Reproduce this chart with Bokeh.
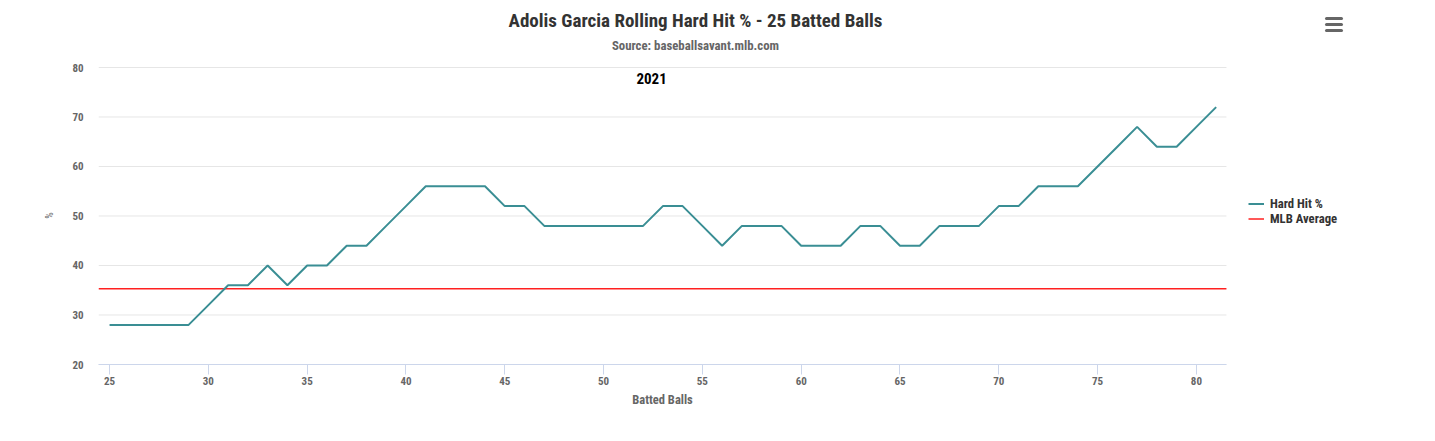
from bokeh.plotting import figure
from bokeh.layouts import column
from bokeh.models import Range1d, FixedTicker, Label, Legend, LegendItem
from bokeh.embed import file_html
from bokeh.resources import INLINE

# ---- data ----
batted_balls = list(range(25, 82))
hard_hit_pct = [28, 28, 28, 28, 28, 32, 36, 36, 40, 36,
                40, 40, 44, 44, 48, 52, 56, 56, 56, 56,
                52, 52, 48, 48, 48, 48, 48, 48, 52, 52,
                48, 44, 48, 48, 48, 44, 44, 44, 48, 48,
                44, 44, 48, 48, 48, 52, 52, 56, 56, 56,
                60, 64, 68, 64, 64, 68, 72]
mlb_average = 35.3
x_ticks = [25, 30, 35, 40, 45, 50, 55, 60, 65, 70, 75, 80]
y_ticks = [20, 30, 40, 50, 60, 70, 80]
title_text = "Adolis Garcia Rolling Hard Hit % - 25 Batted Balls"
subtitle_text = "Source: baseballsavant.mlb.com"
season_text = "2021"
x_axis_title = "Batted Balls"
y_axis_title = "%"

FONT = "Roboto Condensed, Liberation Sans Narrow, Roboto"
W = 1419
HEAD_H = 61
MAIN_H = 331
FOOT_H = 33
LEFT = 98


def strip(height):
    f = figure(width=W, height=height, output_backend="svg", toolbar_location=None,
               x_range=Range1d(LEFT, W), y_range=Range1d(0, height),
               min_border_left=LEFT, min_border_right=0, min_border_top=0,
               min_border_bottom=0, outline_line_color=None)
    f.axis.visible = False
    f.grid.visible = False
    return f


# ---------------- header strip (title, subtitle, menu icon) ----------------
head = strip(HEAD_H)
head.add_layout(Label(x=695, y=HEAD_H - 20, text=title_text, text_align="center",
                      text_baseline="middle", text_font=FONT, text_font_style="bold",
                      text_font_size="19px", text_color="#333333"))
head.add_layout(Label(x=695, y=HEAD_H - 45, text=subtitle_text, text_align="center",
                      text_baseline="middle", text_font=FONT, text_font_style="bold",
                      text_font_size="12.8px", text_color="#666666"))
icon_y = [HEAD_H - 18, HEAD_H - 24, HEAD_H - 30]
head.segment(x0=[1326] * 3, x1=[1341] * 3, y0=icon_y, y1=icon_y,
             line_color="#666666", line_width=3, line_cap="round")

# ---------------- main chart ----------------
X_LO, X_HI = 24.44, 81.52
Y_LO, Y_HI = 20, 80
X_FRAME_HI = 91.29
Y_FRAME_HI = 80.2

p = figure(width=W, height=MAIN_H, output_backend="svg", toolbar_location=None,
           x_range=Range1d(X_LO, X_FRAME_HI), y_range=Range1d(Y_LO, Y_FRAME_HI),
           min_border_left=LEFT, min_border_right=0, min_border_top=5,
           min_border_bottom=28, outline_line_color=None)

teal = "#3a8e94"
red = "#ff2020"
grid_col = "#e6e6e6"

p.segment(x0=[X_LO] * len(y_ticks), x1=[X_HI] * len(y_ticks), y0=y_ticks, y1=y_ticks,
          line_color=grid_col, line_width=1)

r_avg = p.line([X_LO, X_HI], [mlb_average, mlb_average], line_color=red, line_width=1.5)
r_hh = p.line(batted_balls, hard_hit_pct, line_color=teal, line_width=2)

xa = p.xaxis[0]
xa.bounds = (X_LO, X_HI)
xa.ticker = FixedTicker(ticks=x_ticks)
xa.axis_line_color = "#ccd6eb"
xa.major_tick_line_color = "#ccd6eb"
xa.major_tick_out = 10
xa.major_tick_in = 0
xa.minor_tick_line_color = None
xa.major_label_text_font = FONT
xa.major_label_text_font_style = "bold"
xa.major_label_text_font_size = "11px"
xa.major_label_text_color = "#666666"
xa.major_label_standoff = 2

ya = p.yaxis[0]
ya.bounds = (Y_LO, Y_HI)
ya.ticker = FixedTicker(ticks=y_ticks)
ya.axis_line_color = None
ya.major_tick_line_color = None
ya.minor_tick_line_color = None
ya.major_tick_out = 0
ya.major_tick_in = 0
ya.major_label_text_font = FONT
ya.major_label_text_font_style = "bold"
ya.major_label_text_font_size = "11px"
ya.major_label_text_color = "#666666"
ya.major_label_standoff = 15
ya.axis_label = y_axis_title
ya.axis_label_text_font = FONT
ya.axis_label_text_font_style = "normal"
ya.axis_label_text_font_size = "10px"
ya.axis_label_text_color = "#666666"
ya.axis_label_standoff = 14

p.xgrid.grid_line_color = None
p.ygrid.grid_line_color = None

p.add_layout(Label(x=52.43, y=77.78, text=season_text, text_align="center",
                   text_baseline="middle", text_font=FONT, text_font_style="bold",
                   text_font_size="15px", text_color="#000000"))

legend = Legend(items=[LegendItem(label="Hard Hit %", renderers=[r_hh]),
                       LegendItem(label="MLB Average", renderers=[r_avg])],
                location=(1150, 138), orientation="vertical")
legend.margin = 0
legend.padding = 8
legend.spacing = 0
legend.glyph_width = 16
legend.glyph_height = 15
legend.label_height = 15
legend.label_standoff = 6
legend.border_line_color = None
legend.background_fill_color = None
legend.background_fill_alpha = 0
legend.label_text_font = FONT
legend.label_text_font_style = "bold"
legend.label_text_font_size = "12.7px"
legend.label_text_color = "#333333"
p.add_layout(legend, "center")

# ---------------- footer strip (x-axis title, centred under the plot area) ----------------
foot = strip(FOOT_H)
foot.add_layout(Label(x=662, y=FOOT_H - 7, text=x_axis_title, text_align="center",
                      text_baseline="middle", text_font=FONT, text_font_style="bold",
                      text_font_size="12.5px", text_color="#666666"))

layout = column(head, p, foot, spacing=0)
open("out.html", "w").write(file_html(layout, INLINE))
